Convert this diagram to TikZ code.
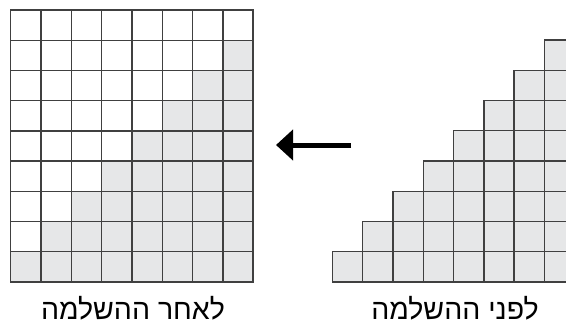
\documentclass[tikz,border=0pt]{standalone}
\usepackage{fontspec}
\newfontfamily\hebfont[Script=Hebrew]{Liberation Sans}
\TeXXeTstate=1
\usetikzlibrary{arrows.meta}
\definecolor{cellgray}{HTML}{E6E7E8}
\definecolor{gridline}{HTML}{404040}
\tikzset{
  cellw/.style={draw=gridline, line width=1.4pt, fill=white},
  cellg/.style={draw=gridline, line width=1.4pt, fill=cellgray},
  lbl/.style={font=\hebfont\fontsize{28.5}{32}\selectfont, text=black, inner sep=0pt, anchor=base},
  bigarrow/.style={line width=5pt, -{Triangle[length=17pt,width=30pt]}}
}
\begin{document}
\begin{tikzpicture}[x=1pt,y=-1pt]
\useasboundingbox (0,0) rectangle (566,327);
\clip (0,0) rectangle (566,327);
% left grid (after completion)
\foreach \r in {0,...,8}{
  \foreach \c in {0,...,7}{
    \pgfmathtruncatemacro{\g}{(\r>=1 && \c>=8-\r) ? 1 : 0}
    \ifnum\g=1
      \path[cellg] ({10.7+30.3*\c},{10+30.2*\r}) rectangle ++(30.3,30.2);
    \else
      \path[cellw] ({10.7+30.3*\c},{10+30.2*\r}) rectangle ++(30.3,30.2);
    \fi
  }
}
% right staircase (before completion)
\foreach \r in {0,...,7}{
  \foreach \c in {0,...,7}{
    \pgfmathtruncatemacro{\g}{(\c>=7-\r) ? 1 : 0}
    \ifnum\g=1
      \path[cellg] ({332.3+30.3*\c},{40+30.25*\r}) rectangle ++(30.3,30.25);
    \fi
  }
}
% arrow
\coordinate (from) at (351,145);
\coordinate (to) at (276,145);
\draw[bigarrow] (from) -- (to);
% labels
\node[lbl] (after) at (133,319) {\beginR לאחר ההשלמה\endR};
\node[lbl] (before) at (455,319) {\beginR לפני ההשלמה\endR};
\end{tikzpicture}
\end{document}
